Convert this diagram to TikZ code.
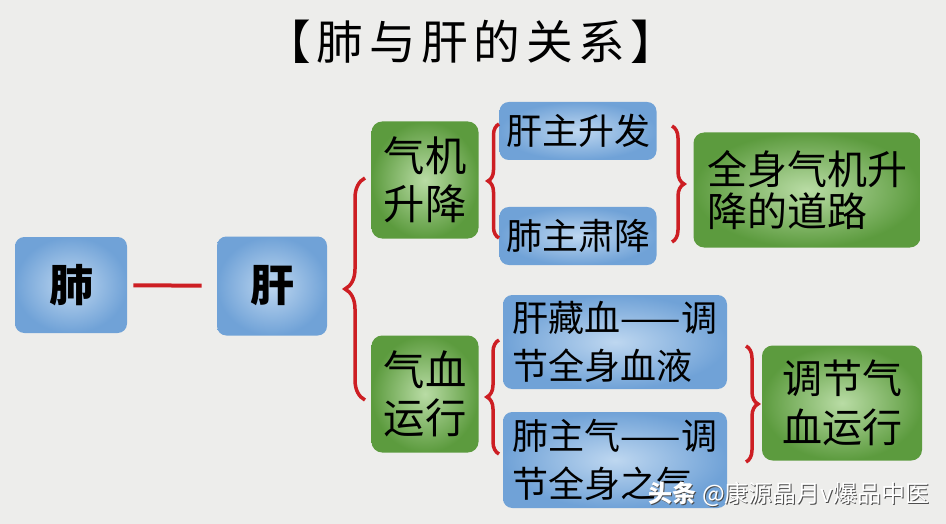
\documentclass[tikz,border=0pt]{standalone}
\usepackage{fontspec}
\setmainfont{Noto Sans CJK SC}
\usetikzlibrary{decorations.pathreplacing}

\definecolor{paper}{RGB}{237,237,235}
\definecolor{bluedark}{RGB}{112,162,215}
\definecolor{bluelite}{RGB}{190,215,240}
\definecolor{greendark}{RGB}{92,155,62}
\definecolor{greenlite}{RGB}{185,220,165}
\definecolor{bracered}{RGB}{205,30,35}

\tikzset{
  bluebox/.style={rounded corners=7, shade, outer color=bluedark, inner color=bluelite, inner sep=0pt, align=left},
  greenbox/.style={rounded corners=8, shade, outer color=greendark, inner color=greenlite, inner sep=0pt, align=left},
  redbrace/.style={draw=bracered, line width=3.5pt*0.75, decorate, decoration={brace, amplitude=#1}},
  redline/.style={draw=bracered, line width=3pt}
}

\begin{document}
\begin{tikzpicture}[x=0.75pt,y=0.75pt,yscale=-1,xscale=1]
%background, 946 x 524
\fill [paper] (0,0) rectangle (946,524);
\useasboundingbox (0,0) rectangle (946,524);

% Text Node
\draw (471,42) node (title) [inner sep=0pt, font={\fontsize{35}{40}\selectfont\addfontfeature{LetterSpace=12}}] {【肺与肝的关系】};

% Text Node
\draw (71,285) node (fei) [bluebox, minimum width=112*0.75pt, minimum height=96*0.75pt, align=center, font={\fontsize{33}{38}\selectfont\bfseries}] {肺};
% Text Node
\draw (272,286) node (gan) [bluebox, minimum width=110*0.75pt, minimum height=99*0.75pt, align=center, font={\fontsize{33}{38}\selectfont\bfseries}] {肝};
%Straight Lines
\draw [redline, shorten <=6*0.75pt, shorten >=15*0.75pt] (fei) -- (gan);

% Text Node
\draw (425,180) node (qiji) [greenbox, minimum width=107*0.75pt, minimum height=117*0.75pt, font={\fontsize{31}{36}\selectfont}] {气机\\升降};
% Text Node
\draw (425,394) node (xueyun) [greenbox, minimum width=107*0.75pt, minimum height=117*0.75pt, font={\fontsize{31}{36}\selectfont}] {气血\\运行};

% Text Node
\draw (578,131) node (shengfa) [bluebox, minimum width=157*0.75pt, minimum height=58*0.75pt, font={\fontsize{27}{30}\selectfont}] {肝主升发};
% Text Node
\draw (578,236) node (sujiang) [bluebox, minimum width=157*0.75pt, minimum height=58*0.75pt, font={\fontsize{27}{30}\selectfont}] {肺主肃降};
% Text Node
\draw (807,190) node (daolu) [greenbox, minimum width=227*0.75pt, minimum height=115*0.75pt, font={\fontsize{30}{32}\selectfont}] {全身气机升\\降的道路};

% Text Node
\draw (615,342) node (cangxue) [bluebox, minimum width=224*0.75pt, minimum height=94*0.75pt, font={\fontsize{27}{36}\selectfont}] {肝藏血——调\\节全身血液};
% Text Node
\draw (615,460) node (zhuqi) [bluebox, minimum width=224*0.75pt, minimum height=96*0.75pt, font={\fontsize{27}{36}\selectfont}] {肺主气——调\\节全身之气};
% Text Node
\draw (842,403) node (tiaojie) [greenbox, minimum width=160*0.75pt, minimum height=115*0.75pt, font={\fontsize{30}{37}\selectfont}] {调节气\\血运行};

%Braces
\coordinate (b1s) at (365,400);
\coordinate (b1e) at (365,178);
\draw [redbrace=20*0.75pt] (b1s) -- (b1e);
\coordinate (b2s) at (499,238);
\coordinate (b2e) at (499,124);
\draw [redbrace=11*0.75pt] (b2s) -- (b2e);
\coordinate (b3s) at (672,126);
\coordinate (b3e) at (672,242);
\draw [redbrace=12*0.75pt] (b3s) -- (b3e);
\coordinate (b4s) at (499,454);
\coordinate (b4e) at (499,340);
\draw [redbrace=12*0.75pt] (b4s) -- (b4e);
\coordinate (b5s) at (746,346);
\coordinate (b5e) at (746,462);
\draw [redbrace=12*0.75pt] (b5s) -- (b5e);

% Text Node (watermark)
\draw (790,495) node (markshadow) [text=black!70, inner sep=0pt, font={\fontsize{18}{20}\selectfont}] {\textbf{头条} @康源晶月v爆品中医};
\draw (789,494) node (mark) [text=white, inner sep=0pt, font={\fontsize{18}{20}\selectfont}] {\textbf{头条} @康源晶月v爆品中医};

\end{tikzpicture}
\end{document}
